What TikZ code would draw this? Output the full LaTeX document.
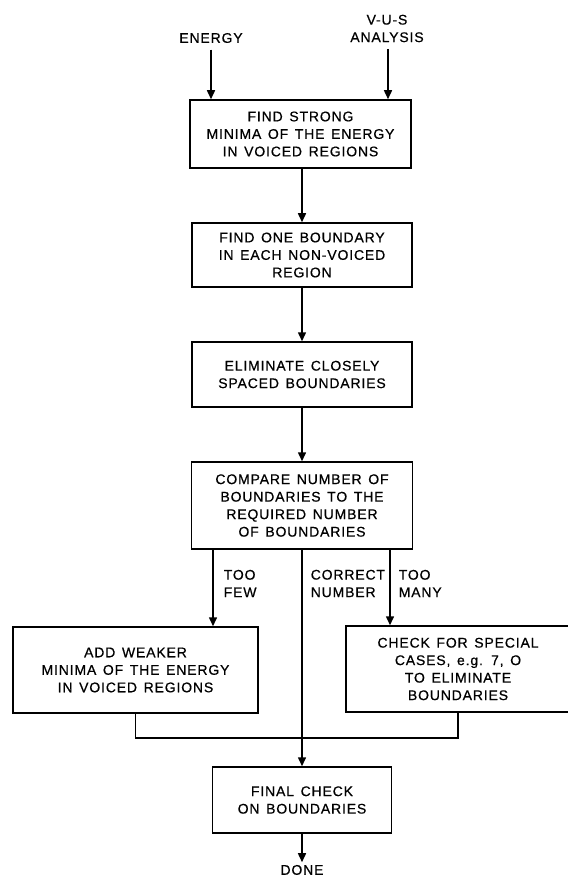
\documentclass[tikz,border=0pt]{standalone}
\usepackage{fontspec}
\setmainfont{Liberation Sans}[LetterSpace=6, WordSpace=1.4, FakeBold=0.6]
\usetikzlibrary{arrows.meta}
\begin{document}
\begin{tikzpicture}[x=1pt,y=-1pt, line width=1.5pt,
  box/.style={draw, rectangle, align=center, inner sep=0pt,
    font=\fontsize{14}{17.5}\selectfont},
  lab/.style={align=center, inner sep=0pt, font=\fontsize{14}{17.5}\selectfont},
  arr/.style={-{Triangle[length=9pt,width=8pt]}}]
\useasboundingbox (0,0) rectangle (567,877);

\node[lab] (energy) at (211,38) {ENERGY};
\node[lab] (vus) at (387,28.5) {V-U-S\\ANALYSIS};

\node[box, minimum width=221, minimum height=68] (b1) at (300.5,134)
  {FIND STRONG\\MINIMA OF THE ENERGY\\IN VOICED REGIONS};
\node[box, minimum width=220, minimum height=64] (b2) at (302,255)
  {FIND ONE BOUNDARY\\IN EACH NON-VOICED\\REGION};
\node[box, minimum width=220, minimum height=65] (b3) at (302,374.5)
  {ELIMINATE CLOSELY\\SPACED BOUNDARIES};
\node[box, minimum width=221, minimum height=87] (b4) at (302,505.5)
  {COMPARE NUMBER OF\\BOUNDARIES TO THE\\REQUIRED NUMBER\\OF BOUNDARIES};
\node[box, minimum width=245, minimum height=86] (b5) at (135.5,670)
  {ADD WEAKER\\MINIMA OF THE ENERGY\\IN VOICED REGIONS};
\node[box, minimum width=224, minimum height=86] (b6) at (458,669)
  {CHECK FOR SPECIAL\\CASES, e.g. 7, O\\TO ELIMINATE\\BOUNDARIES};
\node[box, minimum width=179, minimum height=66] (fin) at (302,800)
  {FINAL CHECK\\ON BOUNDARIES};

\node[lab, align=left, anchor=west] (few) at (223,583.5) {TOO\\FEW};
\node[lab, align=left, anchor=west] (corr) at (310,583.5) {CORRECT\\NUMBER};
\node[lab, align=left, anchor=west] (many) at (398,583.5) {TOO\\MANY};
\node[inner sep=0pt, font=\fontsize{14}{17.5}\selectfont, text depth=0pt,
  anchor=south] (done) at (302,875.5) {DONE};

\draw[arr] ([yshift=-6pt]energy.south) -- (energy.south |- b1.north);
\draw[arr] ([xshift=1pt,yshift=-6pt]vus.south) -- ([xshift=1pt]vus.south |- b1.north);
\draw[arr] (b1.south -| b2.north) -- (b2.north);
\draw[arr] (b2.south) -- (b3.north);
\draw[arr] (b3.south) -- (b4.north);
\draw[arr] ([xshift=-89pt]b4.south) -- ([xshift=-89pt]b4.south |- b5.north);
\draw[arr] ([xshift=88pt]b4.south) -- ([xshift=88pt]b4.south |- b6.north);
\draw[arr] (b4.south) -- (fin.north);
\coordinate (j) at (302,738);
\draw (b5.south) -- (b5.south |- j) -- (b6.south |- j) -- (b6.south);
\draw[arr] (fin.south) -- ([yshift=2pt]done.north);
\end{tikzpicture}
\end{document}
